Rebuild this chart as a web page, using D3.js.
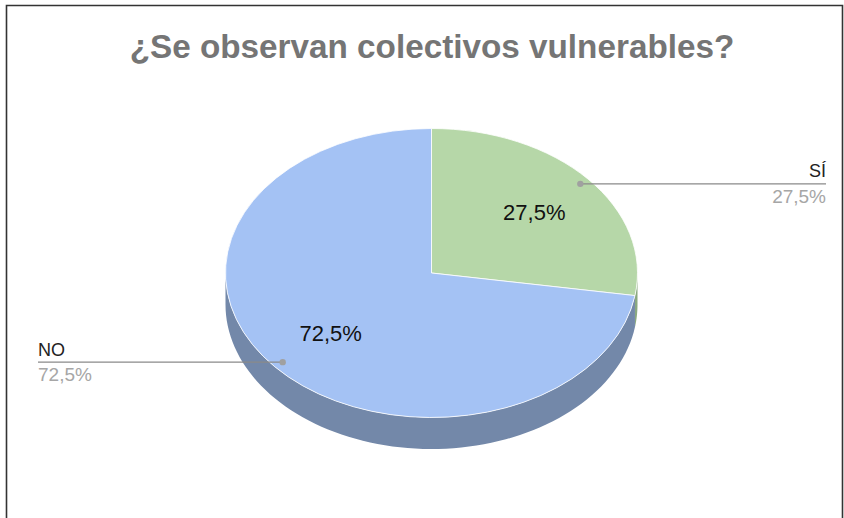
<!DOCTYPE html>
<html>
<head>
<meta charset="utf-8">
<script src="https://cdn.jsdelivr.net/npm/d3@7"></script>
<style>
  html, body { margin: 0; padding: 0; background: #fff; }
  svg { display: block; font-family: "Liberation Sans", Arial, sans-serif; }
</style>
</head>
<body>
<svg id="chart" width="844" height="518"></svg>
<script>
// Survey answers and their shares
const categories = ["SÍ", "NO"];
const values = [27.5, 72.5];
const valueLabels = ["27,5%", "72,5%"];
const topColors = ["#b6d7a8", "#a4c2f4"];
const sideColors = ["#8aa87f", "#7388a9"];
const title = "¿Se observan colectivos vulnerables?";

const W = 844, H = 518;
const cx = 431.5, cy = 273, rx = 206, ry = 144.5, depth = 31.5;

const svg = d3.select("#chart");

// frame
svg.append("path")
  .attr("d", `M6.5,${H} V5.5 H842.5 V${H}`)
  .attr("fill", "none").attr("stroke", "#333").attr("stroke-width", 1.6);

// title, sized to its span across the top
const t = svg.append("text")
  .attr("x", 432).attr("y", 57.5)
  .attr("text-anchor", "middle")
  .attr("font-weight", "bold")
  .attr("font-size", 30)
  .attr("fill", "#757575")
  .text(title);
const tw = t.node().getComputedTextLength();
t.attr("font-size", 30 * 605 / tw);

const pie = d3.pie().sort(null).value(d => d)(values);

// point on the ellipse for a d3 angle (0 = top, clockwise)
const pt = (a, dy = 0) => [cx + rx * Math.sin(a), cy - ry * Math.cos(a) + dy];

// side walls: only the front half (angles between π/2 and 3π/2) shows
const sideG = svg.append("g");
pie.forEach((s, i) => {
  const a0 = Math.max(s.startAngle, Math.PI / 2);
  const a1 = Math.min(s.endAngle, 3 * Math.PI / 2);
  if (a1 <= a0) return;
  const n = 80;
  const angs = d3.range(n + 1).map(k => a0 + (a1 - a0) * k / n);
  const topEdge = angs.map(a => pt(a));
  const botEdge = angs.slice().reverse().map(a => pt(a, depth));
  sideG.append("path")
    .attr("d", d3.line()(topEdge.concat(botEdge)) + "Z")
    .attr("fill", sideColors[i]);
});

// top face: circular arcs squashed vertically into the ellipse
const arc = d3.arc().innerRadius(0).outerRadius(rx);
const topG = svg.append("g")
  .attr("transform", `translate(${cx},${cy}) scale(1,${ry / rx})`);
topG.selectAll("path").data(pie).join("path")
  .attr("d", arc)
  .attr("fill", (d, i) => topColors[i])
  .attr("stroke", "#fff").attr("stroke-width", 0.8)
  .attr("vector-effect", "non-scaling-stroke");

// value labels inside the slices
pie.forEach((s, i) => {
  const m = (s.startAngle + s.endAngle) / 2;
  const x = cx + 0.65 * rx * Math.sin(m);
  const y = cy - 0.65 * ry * Math.cos(m);
  svg.append("text")
    .attr("x", x + 1).attr("y", y + 7.5)
    .attr("text-anchor", "middle")
    .attr("font-size", 22)
    .attr("fill", "#111")
    .text(valueLabels[i]);
});

// leader lines with category names and shares
pie.forEach((s, i) => {
  const m = (s.startAngle + s.endAngle) / 2;
  const x = cx + 0.95 * rx * Math.sin(m);
  const y = cy - 0.95 * ry * Math.cos(m);
  const right = Math.sin(m) > 0;
  const xEnd = right ? 826 : 38;
  svg.append("line")
    .attr("x1", x).attr("y1", y).attr("x2", xEnd).attr("y2", y)
    .attr("stroke", "#8a8a8a").attr("stroke-width", 1.3);
  svg.append("circle")
    .attr("cx", x).attr("cy", y).attr("r", 3.2).attr("fill", "#a0a0a0");
  const anchor = right ? "end" : "start";
  svg.append("text")
    .attr("x", xEnd).attr("y", y - 6.5)
    .attr("text-anchor", anchor).attr("font-size", 18).attr("fill", "#222")
    .text(categories[i]);
  svg.append("text")
    .attr("x", xEnd).attr("y", y + 19)
    .attr("text-anchor", anchor).attr("font-size", 19).attr("fill", "#a6a6a6")
    .text(valueLabels[i]);
});
</script>
</body>
</html>
